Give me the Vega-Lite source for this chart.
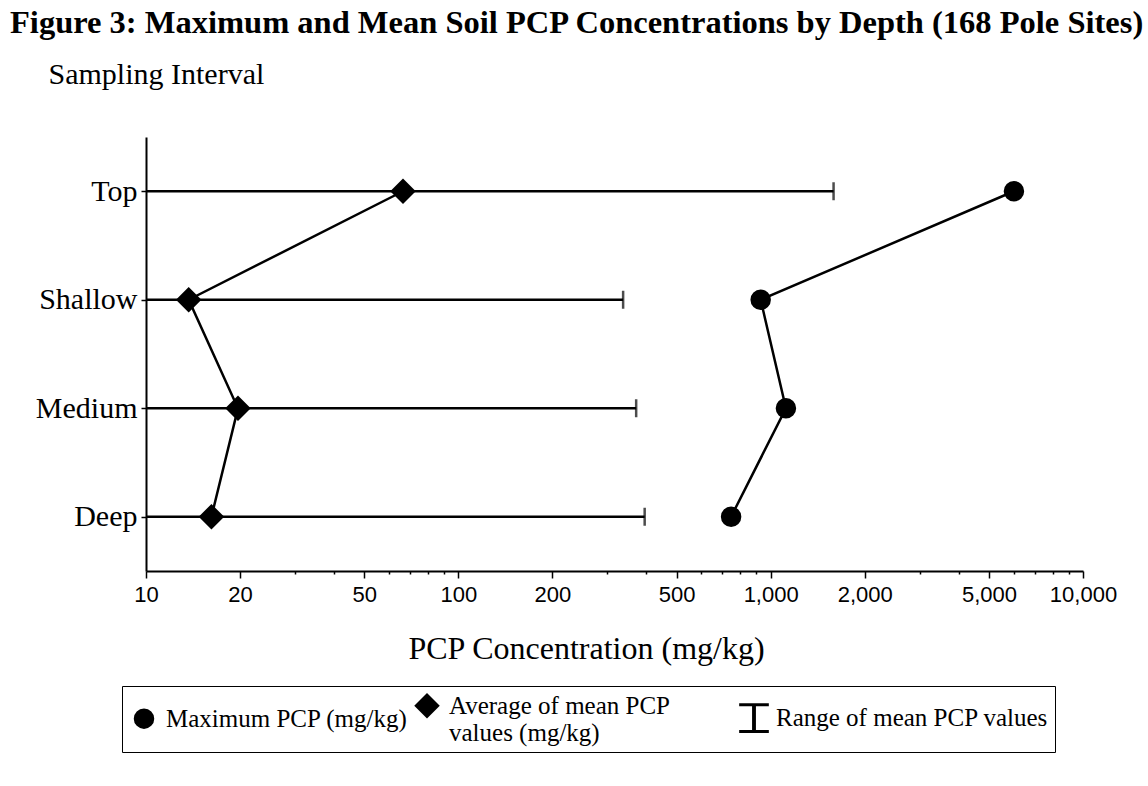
{
  "$schema": "https://vega.github.io/schema/vega-lite/v6.json",
  "autosize": {"type": "none"},
  "padding": {"left": 146, "top": 137, "right": 65, "bottom": 215},
  "width": 937,
  "height": 434,
  "background": "white",
  "config": {
    "view": {"stroke": null},
    "font": "Liberation Serif"
  },
  "title": {
    "text": "Figure 3: Maximum and Mean Soil PCP Concentrations by Depth (168 Pole Sites)",
    "anchor": "start",
    "frame": "group",
    "font": "Liberation Serif",
    "fontSize": 32.5,
    "fontWeight": "bold",
    "color": "black",
    "dx": -136,
    "offset": 20
  },
  "datasets": {
    "points": [
      {"depth": "Top", "ord": 1, "series": "Maximum PCP (mg/kg)", "value": 6010},
      {"depth": "Shallow", "ord": 2, "series": "Maximum PCP (mg/kg)", "value": 929},
      {"depth": "Medium", "ord": 3, "series": "Maximum PCP (mg/kg)", "value": 1119},
      {"depth": "Deep", "ord": 4, "series": "Maximum PCP (mg/kg)", "value": 747},
      {"depth": "Top", "ord": 1, "series": "Average of mean PCP values (mg/kg)", "value": 66.5},
      {"depth": "Shallow", "ord": 2, "series": "Average of mean PCP values (mg/kg)", "value": 13.7},
      {"depth": "Medium", "ord": 3, "series": "Average of mean PCP values (mg/kg)", "value": 19.7},
      {"depth": "Deep", "ord": 4, "series": "Average of mean PCP values (mg/kg)", "value": 16.2}
    ],
    "ranges": [
      {"depth": "Top", "rmin": 10, "rmax": 1590},
      {"depth": "Shallow", "rmin": 10, "rmax": 337},
      {"depth": "Medium", "rmin": 10, "rmax": 371},
      {"depth": "Deep", "rmin": 10, "rmax": 395}
    ]
  },
  "encoding": {
    "y": {
      "field": "depth",
      "type": "ordinal",
      "sort": ["Top", "Shallow", "Medium", "Deep"],
      "scale": {"type": "point", "padding": 0.5},
      "axis": {
        "title": "Sampling Interval",
        "titleAngle": 0,
        "titleX": -98,
        "titleY": -54,
        "titleAlign": "left",
        "titleBaseline": "alphabetic",
        "titleFont": "Liberation Serif",
        "titleFontSize": 30,
        "titleFontWeight": "normal",
        "titleColor": "black",
        "labelFont": "Liberation Serif",
        "labelFontSize": 30,
        "labelColor": "black",
        "labelPadding": 4,
        "tickSize": 5,
        "tickColor": "black",
        "tickWidth": 1.5,
        "domainColor": "black",
        "domainWidth": 2,
        "grid": false
      }
    }
  },
  "layer": [
    {
      "data": {"name": "ranges"},
      "mark": {"type": "rule", "color": "black", "strokeWidth": 2.5},
      "encoding": {
        "x": {
          "field": "rmin",
          "type": "quantitative",
          "scale": {"type": "log", "domain": [10, 10000], "nice": false},
          "axis": {
            "values": [10, 20, 30, 40, 50, 60, 70, 80, 90, 100, 200, 300, 400, 500, 600, 700, 800, 900, 1000, 2000, 3000, 4000, 5000, 6000, 7000, 8000, 9000, 10000],
            "labelExpr": "indexof([10, 20, 50, 100, 200, 500, 1000, 2000, 5000, 10000], datum.value) >= 0 ? format(datum.value, ',') : ''",
            "tickSize": {"condition": {"test": "indexof([10, 20, 50, 100, 200, 500, 1000, 2000, 5000, 10000], datum.value) >= 0", "value": 7}, "value": 3},
            "labelFont": "Liberation Sans",
            "labelFontSize": 22,
            "labelColor": "black",
            "labelPadding": 6,
            "labelOverlap": false,
            "labelFlush": false,
            "tickColor": "black",
            "tickWidth": 1.5,
            "domainColor": "black",
            "domainWidth": 2,
            "grid": false,
            "title": "PCP Concentration (mg/kg)",
            "titleFont": "Liberation Serif",
            "titleFontSize": 32,
            "titleFontWeight": "normal",
            "titleColor": "black",
            "titleX": 440,
            "titleAnchor": "start",
            "titleAlign": "center",
            "titlePadding": 28
          }
        },
        "x2": {"field": "rmax"},
        "y": {"field": "depth", "type": "ordinal", "sort": ["Top", "Shallow", "Medium", "Deep"]}
      }
    },
    {
      "data": {"name": "ranges"},
      "mark": {"type": "tick", "color": "black", "size": 18, "thickness": 2.5, "orient": "vertical"},
      "encoding": {
        "x": {"field": "rmax", "type": "quantitative"},
        "y": {"field": "depth", "type": "ordinal", "sort": ["Top", "Shallow", "Medium", "Deep"]}
      }
    },
    {
      "data": {"name": "points"},
      "mark": {"type": "line", "color": "black", "strokeWidth": 2.5},
      "encoding": {
        "x": {"field": "value", "type": "quantitative"},
        "y": {"field": "depth", "type": "ordinal", "sort": ["Top", "Shallow", "Medium", "Deep"]},
        "detail": {"field": "series"},
        "order": {"field": "ord", "type": "quantitative"}
      }
    },
    {
      "data": {"name": "points"},
      "mark": {"type": "point", "filled": true, "color": "black", "opacity": 1},
      "encoding": {
        "x": {"field": "value", "type": "quantitative"},
        "y": {"field": "depth", "type": "ordinal", "sort": ["Top", "Shallow", "Medium", "Deep"]},
        "shape": {
          "field": "series",
          "type": "nominal",
          "scale": {
            "domain": ["Maximum PCP (mg/kg)", "Average of mean PCP values (mg/kg)", "Range of mean PCP values"],
            "range": ["circle", "diamond", "M-1,-1H1V-0.8H0.13V0.8H1V1H-1V0.8H-0.13V-0.8H-1Z"]
          },
          "legend": {
            "title": null,
            "orient": "none",
            "legendX": -24,
            "legendY": 549,
            "direction": "horizontal",
            "columns": 3,
            "columnPadding": 3,
            "padding": 6,
            "strokeColor": "black",
            "fillColor": "white",
            "labelFont": "Liberation Serif",
            "labelFontSize": 25,
            "labelColor": "black",
            "labelLimit": 600,
            "labelOffset": 6,
            "symbolFillColor": "black",
            "symbolStrokeColor": "black",
            "symbolOpacity": 1,
            "labelExpr": "datum.label == 'Average of mean PCP values (mg/kg)' ? ['Average of mean PCP          \u200b', 'values (mg/kg)'] : datum.label",
            "encode": {
              "labels": {
                "lineHeight": {"value": 29},
                "dy": {"condition": {"test": "datum.index == 1", "value": -14}, "value": 0}
              },
              "legend": {
                "strokeWidth": {"value": 2}
              }
            }
          }
        },
        "size": {
          "field": "series",
          "type": "nominal",
          "scale": {
            "domain": ["Maximum PCP (mg/kg)", "Average of mean PCP values (mg/kg)", "Range of mean PCP values"],
            "range": [420, 880, 330]
          },
          "legend": {
            "title": null,
            "orient": "none",
            "legendX": -24,
            "legendY": 549,
            "direction": "horizontal",
            "columns": 3,
            "columnPadding": 3,
            "padding": 6,
            "strokeColor": "black",
            "fillColor": "white",
            "labelFont": "Liberation Serif",
            "labelFontSize": 25,
            "labelColor": "black",
            "labelLimit": 600,
            "labelOffset": 6,
            "symbolFillColor": "black",
            "symbolStrokeColor": "black",
            "symbolOpacity": 1,
            "labelExpr": "datum.label == 'Average of mean PCP values (mg/kg)' ? ['Average of mean PCP          \u200b', 'values (mg/kg)'] : datum.label",
            "encode": {
              "labels": {
                "lineHeight": {"value": 29},
                "dy": {"condition": {"test": "datum.index == 1", "value": -14}, "value": 0}
              },
              "legend": {
                "strokeWidth": {"value": 2}
              }
            }
          }
        }
      }
    }
  ]
}
